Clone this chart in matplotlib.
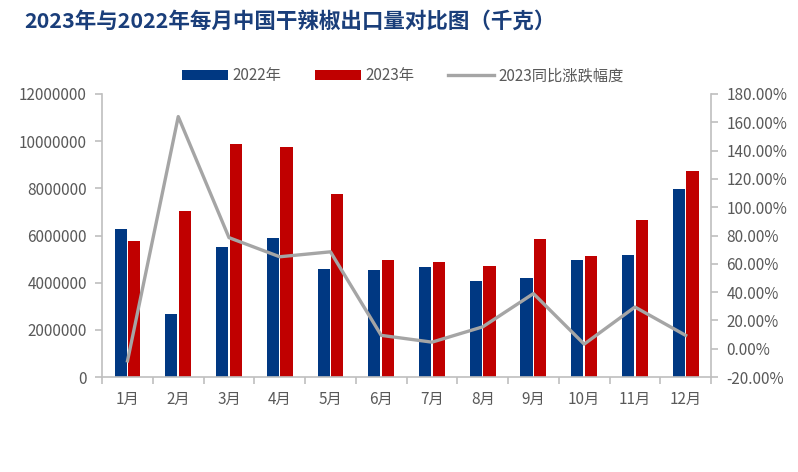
import matplotlib.pyplot as plt
import numpy as np
from matplotlib.ticker import FuncFormatter

plt.rcParams['font.family'] = ['Noto Sans CJK SC', 'DejaVu Sans']

months = ['1月', '2月', '3月', '4月', '5月', '6月', '7月', '8月', '9月', '10月', '11月', '12月']
exp_2022 = [6290000, 2670000, 5510000, 5890000, 4580000, 4540000,
            4660000, 4070000, 4200000, 4960000, 5170000, 7970000]
exp_2023 = [5770000, 7040000, 9880000, 9750000, 7760000, 4960000,
            4880000, 4710000, 5850000, 5130000, 6660000, 8740000]
yoy_2023 = [-8.5, 164.0, 78.5, 65.0, 68.5, 9.5, 4.7, 15.5, 39.0, 3.3, 29.5, 9.5]

blue = '#003882'
red = '#C00000'
grey = '#A5A5A5'
axis_c = '#BFBFBF'
text_c = '#595959'

fig = plt.figure(figsize=(7.98, 4.72), dpi=100)
ax = fig.add_axes([0.128, 0.201, 0.763, 0.600])
ax2 = ax.twinx()

x = np.arange(len(months))
w = 0.24
b1 = ax.bar(x - 0.135, exp_2022, w, color=blue, label='2022年', zorder=2)
b2 = ax.bar(x + 0.135, exp_2023, w, color=red, label='2023年', zorder=2)
ln, = ax2.plot(x, yoy_2023, color=grey, lw=2.4, label='2023同比涨跌幅度', zorder=3)

ax.set_xlim(-0.5, 11.5)
ax.set_ylim(0, 12000000)
ax.set_yticks(np.arange(0, 12000001, 2000000))
ax.yaxis.set_major_formatter(FuncFormatter(lambda v, p: f'{int(v)}'))
ax2.set_ylim(-20, 180)
ax2.set_yticks(np.arange(-20, 181, 20))
ax2.yaxis.set_major_formatter(FuncFormatter(lambda v, p: f'{v:.2f}%'))

ax.set_xticks(x)
ax.set_xticklabels(months)
ax.set_xticks(np.arange(-0.5, 12, 1), minor=True)
ax.tick_params(axis='x', which='major', length=0, pad=10)
ax.tick_params(axis='x', which='minor', length=5, color=axis_c, width=1.2)

for a in (ax, ax2):
    a.spines['top'].set_visible(False)
    a.tick_params(axis='y', colors=axis_c, labelcolor=text_c, labelsize=11, length=5, width=1.2)
    a.tick_params(axis='x', labelcolor=text_c, labelsize=11)
ax.spines['right'].set_visible(False)
ax2.spines['left'].set_visible(False)
ax.spines['left'].set_color(axis_c)
ax2.spines['right'].set_color(axis_c)
ax.spines['bottom'].set_color(axis_c)
ax2.spines['bottom'].set_visible(False)
for s in ('left', 'bottom'):
    ax.spines[s].set_linewidth(1.2)
ax2.spines['right'].set_linewidth(1.2)
ax.tick_params(axis='y', pad=6)
ax2.tick_params(axis='y', pad=6)

fig.text(0.031, 0.955, '2023年与2022年每月中国干辣椒出口量对比图（千克）',
         fontsize=15.5, fontweight='bold', color='#1A3E7A', va='center')

fig.legend([b1, b2, ln], ['2022年', '2023年', '2023同比涨跌幅度'],
           loc='center', bbox_to_anchor=(0.505, 0.839), ncol=3, frameon=False,
           fontsize=11, labelcolor=text_c, handlelength=3.0, handleheight=0.7,
           columnspacing=2.2, handletextpad=0.3)

fig.savefig('out.png', dpi=100)
